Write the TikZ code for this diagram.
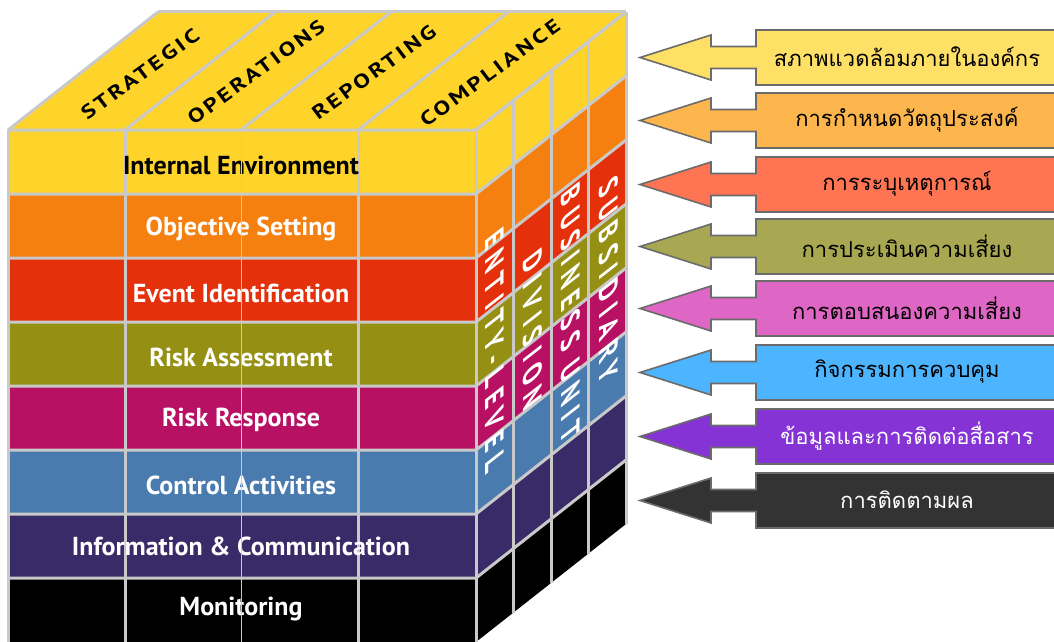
\documentclass[tikz,border=0pt]{standalone}
\usepackage{fontspec}
\setmainfont{PT Sans}
\newfontfamily\topfont{PT Sans}[LetterSpace=12]
\newfontfamily\sidefont{PT Sans}[LetterSpace=28]
\newfontfamily\thaifont[Script=Thai]{Loma}
\definecolor{cA}{HTML}{FFD42A}
\definecolor{cB}{HTML}{F5800F}
\definecolor{cC}{HTML}{E4300B}
\definecolor{cD}{HTML}{958F14}
\definecolor{cE}{HTML}{B81063}
\definecolor{cF}{HTML}{4A7BAF}
\definecolor{cG}{HTML}{392A68}
\definecolor{cH}{HTML}{000000}
\definecolor{aA}{HTML}{FFE066}
\definecolor{aB}{HTML}{FDB64D}
\definecolor{aC}{HTML}{FF7452}
\definecolor{aD}{HTML}{A9A852}
\definecolor{aE}{HTML}{DE66C4}
\definecolor{aF}{HTML}{4DB5FF}
\definecolor{aG}{HTML}{8633D6}
\definecolor{aH}{HTML}{333333}
\definecolor{gridgray}{HTML}{C9C9C9}
\definecolor{arrowline}{HTML}{6B6B6B}
\begin{document}
\begin{tikzpicture}[x=1pt,y=-1pt,
  grid/.style={draw=gridgray,line width=3pt,line join=round},
  rowlabel/.style={font=\bfseries\fontsize{26}{28}\selectfont,inner sep=0pt},
  toplabel/.style={font=\topfont\bfseries\fontsize{19}{20}\selectfont,inner sep=0pt,cm={1.05,0.76,-0.62,0.82,(0,0)}},
  sidelabel/.style={font=\sidefont\bfseries\fontsize{23}{24}\selectfont,text=white,inner sep=0pt,cm={0,-1.12,1.15,0.9,(0,0)}},
  arrowshape/.style={draw=arrowline,line width=1.6pt,line join=miter},
  arrowtext/.style={font=\thaifont\fontsize{22}{24}\selectfont,inner sep=0pt}]
\useasboundingbox (0,0) rectangle (1054,642);
% top face
\fill[cA] (8,130) -- (158,12) -- (626,12) -- (476,130) -- cycle;
% rows, front and side
\foreach \c [count=\i from 0] in {cA,cB,cC,cD,cE,cF,cG,cH}{
  \fill[\c] (8,130+64*\i) rectangle (476,194+64*\i);
  \fill[\c] (476,130+64*\i) -- (626,12+64*\i) -- (626,76+64*\i) -- (476,194+64*\i) -- cycle;
}
% top face lines
\foreach \x in {8,125,241,358,476}{
  \draw[grid] (\x,130) -- ++(150,-118);
}
\draw[grid] (158,12) -- (626,12);
% horizontal row lines
\foreach \i in {0,...,7}{
  \draw[grid] (8,130+64*\i) -- (476,130+64*\i) -- ++(150,-118);
}
% front vertical lines
\foreach \x in {8,125,358,476}{
  \draw[grid] (\x,130) -- (\x,642);
}
% side vertical lines
\foreach \k in {1,2,3,4}{
  \draw[grid] (476+37.5*\k,130-29.5*\k) -- ++(0,512);
}
% front row labels
\node[rowlabel,text=black] (ie) at (241,165) {Internal Environment};
\node[rowlabel,text=white] (os) at (241,229) {Objective Setting};
\node[rowlabel,text=white] (ei) at (241,293) {Event Identification};
\node[rowlabel,text=white] (ra) at (241,357) {Risk Assessment};
\node[rowlabel,text=white] (rr) at (241,420) {Risk Response};
\node[rowlabel,text=white] (ca) at (241,485) {Control Activities};
\node[rowlabel,text=white] (ic) at (241,546) {Information \& Communication};
\node[rowlabel,text=white] (mo) at (241,609) {Monitoring};
\draw[draw=gridgray,line width=1pt] (241,130) -- (241,642);
% top labels
\node[toplabel] (st) at (140,74) {STRATEGIC};
\node[toplabel] (op) at (256,72) {OPERATIONS};
\node[toplabel] (rp) at (374,72) {REPORTING};
\node[toplabel] (cp) at (490,73) {COMPLIANCE};
% side labels
\node[sidelabel] (el) at (495,350) {ENTITY-LEVEL};
\node[sidelabel] (dv) at (533,330) {DIVISION};
\node[sidelabel] (bu) at (571,313) {BUSINESS UNIT};
\node[sidelabel] (sb) at (609,280) {SUBSIDIARY};
% arrows
\foreach \t/\fc/\tc/\txt [count=\j] in {
  30/aA/black/{สภาพแวดล้อมภายในองค์กร},
  93/aB/black/{การกำหนดวัตถุประสงค์},
  157/aC/black/{การระบุเหตุการณ์},
  219/aD/black/{การประเมินความเสี่ยง},
  281/aE/black/{การตอบสนองความเสี่ยง},
  345/aF/black/{กิจกรรมการควบคุม},
  409/aG/white/{ข้อมูลและการติดต่อสื่อสาร},
  473/aH/white/{การติดตามผล}}{
  \draw[arrowshape,fill=\fc] (1064,\t) -- (756,\t) -- (756,\t+16.5) -- (711,\t+16.5)
     -- (711,\t+5) -- (640,\t+27.5) -- (711,\t+50) -- (711,\t+38.5) -- (756,\t+38.5)
     -- (756,\t+55) -- (1064,\t+55) -- cycle;
  \node[arrowtext,text=\tc] (a\j) at (907,\t+27) {\txt};
}
\end{tikzpicture}
\end{document}
